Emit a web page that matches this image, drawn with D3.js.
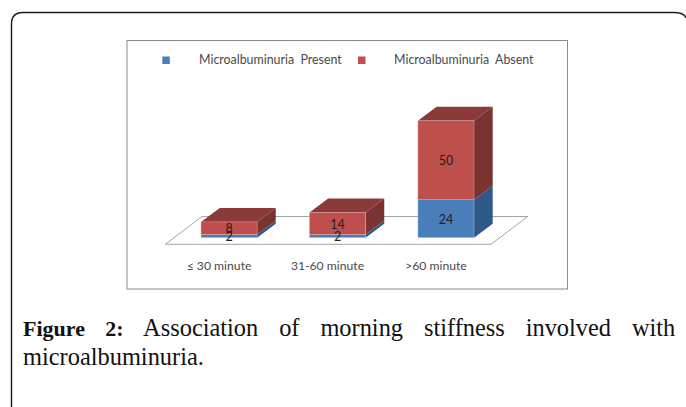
<!DOCTYPE html>
<html>
<head>
<meta charset="utf-8">
<script src="https://cdn.jsdelivr.net/npm/d3@7"></script>
<style>
  html, body { margin: 0; padding: 0; background: #fff; }
  svg { display: block; }
  text { white-space: pre; }
</style>
</head>
<body>
<script>
const categories = ["≤ 30 minute", "31-60 minute", ">60 minute"];
const present = [2, 2, 24];
const absent = [8, 14, 50];
const seriesNames = ["Microalbuminuria  Present", "Microalbuminuria  Absent"];

function main() {
    let width = 686;
    let height = 407;
    let baseY = 237.7;
    let depthX = 18.7;
    let depthY = 14;

    let svg = d3.select("body").append("svg")
        .attr("width", width)
        .attr("height", height);

    // outer card, runs off the bottom of the page
    svg.append("path")
        .attr("d", "M11.5,407 V24 Q11.5,12.5 23,12.5 H673 Q684.5,12.5 686,18")
        .attr("fill", "none")
        .attr("stroke", "#1a1a1a")
        .attr("stroke-width", 1.4);

    // chart frame
    svg.append("rect")
        .attr("x", 127)
        .attr("y", 40.5)
        .attr("width", 440.5)
        .attr("height", 248.5)
        .attr("fill", "#fff")
        .attr("stroke", "#8a8a8a")
        .attr("stroke-width", 1);

    let xScale = d3.scaleBand()
        .domain(categories)
        .range([201, 474])
        .paddingInner(0.483)
        .paddingOuter(0);

    let yScale = d3.scaleLinear()
        .domain([0, 50])
        .range([baseY, baseY - 79]);

    // floor
    svg.append("path")
        .attr("d", "M165.3,244.3 L202,216.5 H527.7 L491,244.3 Z")
        .attr("fill", "#fff")
        .attr("stroke", "#a3a3a3")
        .attr("stroke-width", 1);

    let colors = [
        { front: "#4a7ebb", side: "#2f5a88", top: "#3a6699", edge: "#c3d3e8" },
        { front: "#bf4f4c", side: "#7b3331", top: "#8a3a38", edge: "#e3bcbb" }
    ];

    function drawBlock(g, x, y0, y1, c, withTop) {
        let w = xScale.bandwidth();
        g.append("path")
            .attr("d", `M${x + w},${y0} L${x + w + depthX},${y0 - depthY} V${y1 - depthY} L${x + w},${y1} Z`)
            .attr("fill", c.side);
        if (withTop) {
            g.append("path")
                .attr("d", `M${x},${y1} L${x + depthX},${y1 - depthY} H${x + w + depthX} L${x + w},${y1} Z`)
                .attr("fill", c.top);
        }
        g.append("rect")
            .attr("x", x)
            .attr("y", y1)
            .attr("width", w)
            .attr("height", y0 - y1)
            .attr("fill", c.front)
            .attr("stroke", c.edge)
            .attr("stroke-width", 0.4);
    }

    categories.forEach(function(cat, i) {
        let g = svg.append("g");
        let x = xScale(cat);
        let mid = x + xScale.bandwidth() / 2;
        drawBlock(g, x, yScale(0), yScale(present[i]), colors[0], false);
        drawBlock(g, x, yScale(present[i]), yScale(present[i] + absent[i]), colors[1], true);

        g.append("text")
            .attr("x", mid)
            .attr("y", (yScale(present[i] + absent[i]) + yScale(present[i])) / 2 + 2)
            .attr("class", "val")
            .text(absent[i]);
        g.append("text")
            .attr("x", mid)
            .attr("y", (yScale(present[i]) + yScale(0)) / 2 + 2)
            .attr("class", "val")
            .text(present[i]);

        svg.append("text")
            .attr("x", mid - 10)
            .attr("y", 267)
            .attr("text-anchor", "middle")
            .attr("dominant-baseline", "middle")
            .attr("font-family", "Lato")
            .attr("font-size", 12.2)
            .attr("fill", "#4a4a4a")
            .text(cat);
    });

    svg.selectAll("text.val")
        .attr("text-anchor", "middle")
        .attr("dominant-baseline", "middle")
        .attr("font-family", "Lato")
        .attr("font-size", 12.5)
        .attr("fill", "#1f1f1f");

    // legend
    let legendX = [162.3, 358];
    let textX = [199, 394];
    seriesNames.forEach(function(name, i) {
        svg.append("rect")
            .attr("x", legendX[i])
            .attr("y", 56.5)
            .attr("width", 7.5)
            .attr("height", 7.5)
            .attr("fill", colors[i].front);
        svg.append("text")
            .attr("x", textX[i])
            .attr("y", 61)
            .attr("dominant-baseline", "middle")
            .attr("font-family", "Lato")
            .attr("font-size", 12.4)
            .attr("fill", "#4a4a4a")
            .text(name);
    });

    // caption
    let line1 = svg.append("text")
        .attr("x", 23)
        .attr("y", 336)
        .attr("font-family", "Liberation Serif")
        .attr("font-size", 24.4)
        .attr("fill", "#111")
        .attr("word-spacing", 14.8);
    line1.append("tspan").attr("font-weight", "bold").attr("font-size", 22).text("Figure 2:");
    line1.append("tspan").text(" Association of morning stiffness involved with");

    svg.append("text")
        .attr("x", 23)
        .attr("y", 365)
        .attr("font-family", "Liberation Serif")
        .attr("font-size", 24.4)
        .attr("fill", "#111")
        .text("microalbuminuria.");
}

main();
</script>
</body>
</html>
